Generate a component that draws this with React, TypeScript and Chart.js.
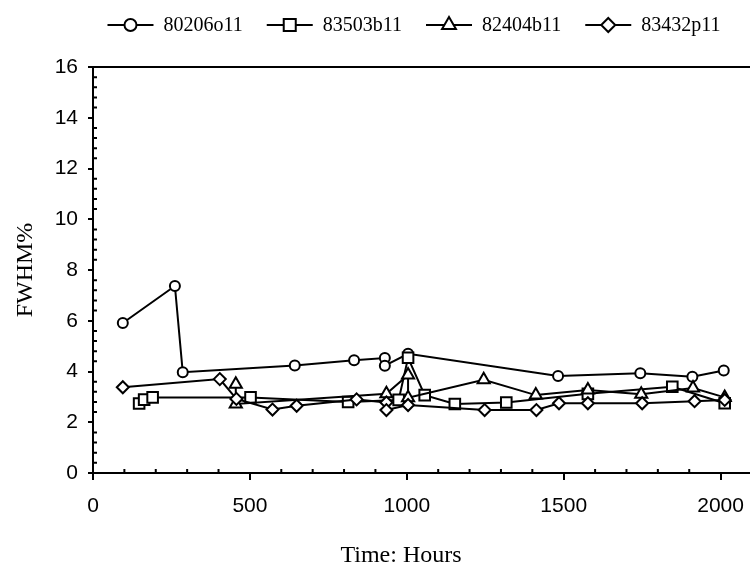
import { useEffect, useRef } from 'react';
import { Chart, registerables } from 'chart.js';
import { drawPoint } from 'chart.js/helpers';

Chart.register(...registerables);

// series names, as in the legend
const seriesNames = ['80206o11', '83503b11', '82404b11', '83432p11'];

// hours / FWHM%
const hours80206 = [95, 261, 286, 643, 832, 930, 930, 1004, 1482, 1744, 1910, 2010];
const fwhm80206 = [5.91, 7.37, 3.97, 4.24, 4.44, 4.53, 4.23, 4.7, 3.82, 3.93, 3.79, 4.04];

const hours83503 = [147, 163, 190, 502, 813, 974, 1004, 1057, 1153, 1317, 1577, 1846, 2013];
const fwhm83503 = [2.74, 2.89, 2.98, 2.98, 2.8, 2.88, 4.54, 3.07, 2.72, 2.78, 3.12, 3.4, 2.75];

const hours82404 = [455, 455, 935, 1004, 1004, 1245, 1411, 1577, 1747, 1912, 2013];
const fwhm82404 = [3.5, 2.72, 3.12, 3.86, 2.97, 3.67, 3.07, 3.27, 3.1, 3.35, 2.98];

const hours83432 = [95, 404, 457, 572, 649, 840, 935, 935, 1004, 1248, 1413, 1485, 1577, 1750, 1917, 2013];
const fwhm83432 = [3.38, 3.7, 2.92, 2.5, 2.65, 2.9, 2.78, 2.48, 2.68, 2.48, 2.48, 2.75, 2.75, 2.75, 2.83, 2.88];

// tick labels
const xTickValues = [0, 500, 1000, 1500, 2000];
const yTickValues = [0, 2, 4, 6, 8, 10, 12, 14, 16];
const xMax = 2100;
const xMinorStep = 100;
const yMinorStep = 0.4;

const sansFont = '"Liberation Sans", Arial, sans-serif';
const serifFont = '"Liberation Serif", "Times New Roman", serif';

const markers = [
  { style: 'circle', radius: 5, legendRadius: 6 },
  { style: 'rect', radius: 7.5, legendRadius: 8.5 },
  { style: 'triangle', radius: 7, legendRadius: 8 },
  { style: 'rectRot', radius: 6, legendRadius: 7 },
];

const toPoints = (xs: number[], ys: number[]) => xs.map((x, i) => ({ x, y: ys[i] }));
const isOn = (v: number, list: number[]) => list.some((t) => Math.abs(t - v) < 1e-6);

// minor ticks (inside), top border, legend and x title
const framePlugin = {
  id: 'frameExtras',
  afterDraw(chart: any) {
    const { ctx, chartArea, scales } = chart;
    const x = scales.x;
    const y = scales.y;
    ctx.save();
    ctx.strokeStyle = '#000';
    ctx.lineWidth = 2;
    ctx.beginPath();
    ctx.moveTo(chartArea.left - 5, chartArea.top);
    ctx.lineTo(chartArea.right, chartArea.top);
    for (let i = 1; i * xMinorStep < x.max; i++) {
      const v = i * xMinorStep;
      if (isOn(v, xTickValues)) continue;
      const px = x.getPixelForValue(v);
      ctx.moveTo(px, chartArea.bottom);
      ctx.lineTo(px, chartArea.bottom - 4);
    }
    for (let i = 1; i * yMinorStep < y.max; i++) {
      const v = i * yMinorStep;
      if (isOn(v, yTickValues)) continue;
      const py = y.getPixelForValue(v);
      ctx.moveTo(chartArea.left, py);
      ctx.lineTo(chartArea.left + 4, py);
    }
    ctx.stroke();

    // x axis title
    ctx.fillStyle = '#000';
    ctx.font = `24px ${serifFont}`;
    ctx.textAlign = 'center';
    ctx.textBaseline = 'middle';
    ctx.fillText('Time: Hours', 401, 556);

    // legend: line + marker, then name
    const iconW = 46;
    const textGap = 10;
    const itemGap = 24;
    const legendY = 25;
    ctx.font = `20px ${serifFont}`;
    const widths = seriesNames.map((n) => iconW + textGap + ctx.measureText(n).width);
    const total = widths.reduce((a, b) => a + b, 0) + itemGap * (seriesNames.length - 1);
    let lx = 414 - total / 2;
    seriesNames.forEach((name, i) => {
      ctx.beginPath();
      ctx.moveTo(lx, legendY);
      ctx.lineTo(lx + iconW, legendY);
      ctx.stroke();
      ctx.fillStyle = '#fff';
      drawPoint(ctx, { pointStyle: markers[i].style, radius: markers[i].legendRadius, rotation: 0, borderWidth: 2 }, lx + iconW / 2, legendY);
      ctx.fillStyle = '#000';
      ctx.textAlign = 'left';
      ctx.fillText(name, lx + iconW + textGap, legendY + 1);
      lx += widths[i] + itemGap;
    });
    ctx.restore();
  },
};

export default function App() {
  const canvasRef = useRef<HTMLCanvasElement | null>(null);
  const chartRef = useRef<Chart | null>(null);

  useEffect(() => {
    if (!canvasRef.current) return;
    if (chartRef.current) chartRef.current.destroy();

    const seriesData = [
      toPoints(hours80206, fwhm80206),
      toPoints(hours83503, fwhm83503),
      toPoints(hours82404, fwhm82404),
      toPoints(hours83432, fwhm83432),
    ];

    chartRef.current = new Chart(canvasRef.current, {
      type: 'line',
      data: {
        datasets: seriesData.map((data, i) => ({
          label: seriesNames[i],
          data,
          order: seriesNames.length - i,
          borderColor: '#000',
          borderWidth: 2,
          pointStyle: markers[i].style as any,
          pointRadius: markers[i].radius,
          pointBorderWidth: 2,
          pointBorderColor: '#000',
          pointBackgroundColor: '#fff',
          tension: 0,
          fill: false,
        })),
      },
      options: {
        animation: false,
        responsive: true,
        maintainAspectRatio: false,
        layout: { autoPadding: false, padding: { left: 7, top: 67, right: 0, bottom: 0 } },
        plugins: { legend: { display: false }, tooltip: { enabled: false } },
        scales: {
          x: {
            type: 'linear',
            min: 0,
            max: xMax,
            // labelled ticks plus an unlabelled one at the (cut-off) right end
            afterBuildTicks: (scale: any) => {
              scale.ticks = [...xTickValues, xMax].map((value) => ({ value }));
            },
            afterFit: (scale: any) => {
              scale.height = 98;
              scale.paddingLeft = 0;
              scale.paddingRight = 0;
            },
            ticks: {
              autoSkip: false,
              maxRotation: 0,
              color: '#000',
              padding: 14,
              font: { family: sansFont, size: 21 },
              callback: (v: any) => (isOn(Number(v), xTickValues) ? String(v) : ''),
            },
            grid: { drawOnChartArea: false, drawTicks: true, tickLength: 7, color: '#000', lineWidth: 2 },
            border: { display: true, color: '#000', width: 2 },
          },
          y: {
            type: 'linear',
            min: 0,
            max: 16,
            afterBuildTicks: (scale: any) => {
              scale.ticks = yTickValues.map((value) => ({ value }));
            },
            afterFit: (scale: any) => {
              scale.width = 86;
            },
            ticks: {
              autoSkip: false,
              color: '#000',
              padding: 10,
              font: { family: sansFont, size: 21 },
              callback: (v: any) => String(v),
            },
            grid: { drawOnChartArea: false, drawTicks: true, tickLength: 5, color: '#000', lineWidth: 2 },
            border: { display: true, color: '#000', width: 2 },
            title: {
              display: true,
              text: 'FWHM%',
              color: '#000',
              font: { family: serifFont, size: 24 },
              padding: { top: 4, bottom: 4 },
            },
          },
        },
      },
      plugins: [framePlugin],
    });

    return () => {
      if (chartRef.current) {
        chartRef.current.destroy();
        chartRef.current = null;
      }
    };
  }, []);

  return (
    <div style={{ position: 'absolute', left: 0, top: 0, width: 750, height: 571, overflow: 'hidden', background: '#fff' }}>
      <div style={{ position: 'relative', width: 752, height: 571 }}>
        <canvas ref={canvasRef} />
      </div>
    </div>
  );
}
